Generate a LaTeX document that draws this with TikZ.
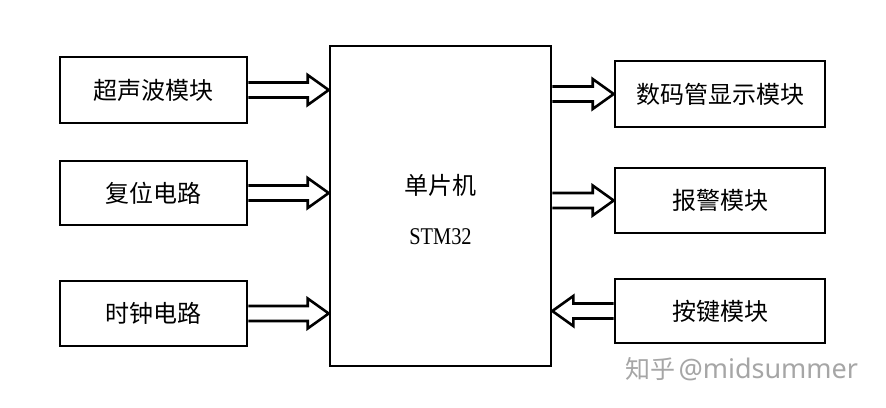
\documentclass[tikz,border=0pt]{standalone}
\usepackage{fontspec}
\newfontfamily\cjk{Noto Sans CJK SC}
\newfontfamily\stmfont[FakeStretch=0.85]{Liberation Serif}
\newfontfamily\wmfont{Noto Sans}
\usetikzlibrary{calc}
\tikzset{
  box/.style={draw=black, line width=2.6pt, fill=white, inner sep=0pt, font=\cjk\fontsize{24}{27}\selectfont},
  blk/.style={draw=black, line width=2.6pt, line join=miter},
  lbl/.style={inner sep=0pt, font=\cjk\fontsize{24}{27}\selectfont},
}
\newcommand\blockarrow[2]{%
  \draw[blk] let \p1=(#1), \p2=(#2), \n1={sign(\x2-\x1)} in
    (\x1,\y1+7.5pt) -- (\x2-\n1*21pt,\y1+7.5pt) -- (\x2-\n1*21pt,\y1+15pt) -- (\x2,\y1)
    -- (\x2-\n1*21pt,\y1-15pt) -- (\x2-\n1*21pt,\y1-7.5pt) -- (\x1,\y1-7.5pt);}
\begin{document}
\begin{tikzpicture}[x=1pt,y=-1pt]
\useasboundingbox[fill=white] (0,0) rectangle (886,407);
% central MCU
\node[box, minimum width=221pt, minimum height=320pt] (mcu) at (440.5,206) {};
\node[lbl] (mcuname) at (440.5,185) {单片机};
\node[inner sep=0pt, font=\stmfont\fontsize{24}{27}\selectfont] (mcutype) at (440.5,237) {STM32};
% left boxes
\node[box, minimum width=187pt, minimum height=66pt] (us) at (153.5,90) {超声波模块};
\node[box, minimum width=187pt, minimum height=64pt] (rst) at (153.5,193) {复位电路};
\node[box, minimum width=187pt, minimum height=65pt] (clk) at (153.5,313.5) {时钟电路};
% right boxes
\node[box, minimum width=210pt, minimum height=66pt] (disp) at (720,94) {数码管显示模块};
\node[box, minimum width=210pt, minimum height=65pt] (alarm) at (720,200.5) {报警模块};
\node[box, minimum width=210pt, minimum height=64pt] (keys) at (720,311) {按键模块};
% block arrows
\blockarrow{us.east}{mcu.west|-us.east}
\blockarrow{rst.east}{mcu.west|-rst.east}
\blockarrow{clk.east}{mcu.west|-clk.east}
\blockarrow{mcu.east|-disp.west}{disp.west}
\blockarrow{mcu.east|-alarm.west}{alarm.west}
\blockarrow{keys.west}{mcu.east|-keys.west}
% watermark
\node[anchor=west, inner sep=0pt, text=black!35] (wm) at (625,369) {{\cjk\fontsize{25}{27}\selectfont 知乎} {\wmfont\fontsize{27}{28}\selectfont @midsummer}};
\end{tikzpicture}
\end{document}
